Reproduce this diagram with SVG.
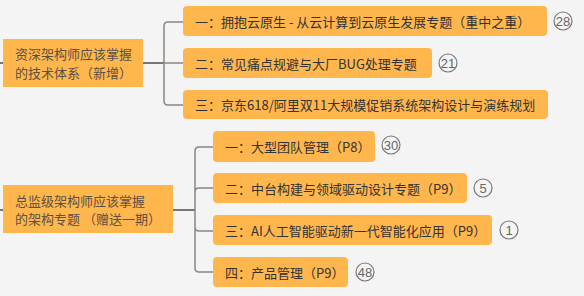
<svg xmlns="http://www.w3.org/2000/svg" width="584" height="296" viewBox="0 0 584 296">
<style>
.bg{fill:#f4f4f4}
.root{fill:#ffb74d}
.child{fill:#ffb74d}
.rt{font-family:"Noto Sans CJK SC","Noto Sans",sans-serif;font-size:13px;fill:#5a5046}
.ct{font-family:"Noto Sans CJK SC","Noto Sans",sans-serif;font-size:13px;fill:#333}
.badge{fill:none;stroke:#777;stroke-width:1.2}
.bt{font-family:"Liberation Sans","Noto Sans",sans-serif;font-size:13px;fill:#666;text-anchor:middle}
.conn{fill:none;stroke:#8c8580;stroke-width:1.5}
.trunk{fill:none;stroke:#7d7670;stroke-width:2}
</style>
<rect class="bg" x="0" y="0" width="584" height="296"/>
<g id="connectors">
<path class="trunk" d="M0 63H3M143 63H164"/>
<path class="conn" d="M183 22H168Q164 22 164 26V101Q164 105 168 105H183M164 63H183"/>
<path class="trunk" d="M0 210H3M173 210H195"/>
<path class="conn" d="M213 147H199Q195 147 195 151V268Q195 272 199 272H213M213 188H199Q195 188 195 192M195 227Q195 231 199 231H213"/>
</g>
<g id="root1">
<rect class="root" x="3" y="39" width="140" height="48"/>
<text class="rt" x="15" y="53" dominant-baseline="central">资深架构师应该掌握</text>
<text class="rt" x="15" y="72" dominant-baseline="central">的技术体系（新增）</text>
</g>
<g id="c1">
<rect class="child" x="183" y="6" width="364" height="30" rx="4"/>
<text class="ct" x="195" y="21" dominant-baseline="central">一：拥抱云原生 - 从云计算到云原生发展专题（重中之重）</text>
<circle class="badge" cx="563" cy="21" r="9"/>
<text class="bt" x="563" y="25.5">28</text>
</g>
<g id="c2">
<rect class="child" x="183" y="48" width="249" height="30" rx="4"/>
<text class="ct" x="195" y="63" dominant-baseline="central">二：常见痛点规避与大厂BUG处理专题</text>
<circle class="badge" cx="448" cy="63" r="9"/>
<text class="bt" x="448" y="67.5">21</text>
</g>
<g id="c3">
<rect class="child" x="183" y="90" width="365" height="29" rx="4"/>
<text class="ct" x="195" y="104.5" dominant-baseline="central">三：京东618/阿里双11大规模促销系统架构设计与演练规划</text>
</g>
<g id="root2">
<rect class="root" x="3" y="185" width="170" height="48"/>
<text class="rt" x="15" y="200" dominant-baseline="central">总监级架构师应该掌握</text>
<text class="rt" x="15" y="218" dominant-baseline="central">的架构专题 （赠送一期）</text>
</g>
<g id="d1">
<rect class="child" x="213" y="131" width="162" height="31" rx="4"/>
<text class="ct" x="225" y="146" dominant-baseline="central">一：大型团队管理（P8）</text>
<circle class="badge" cx="391" cy="145" r="9"/>
<text class="bt" x="391" y="149.5">30</text>
</g>
<g id="d2">
<rect class="child" x="213" y="173" width="254" height="30" rx="4"/>
<text class="ct" x="225" y="188" dominant-baseline="central">二：中台构建与领域驱动设计专题（P9）</text>
<circle class="badge" cx="483" cy="188" r="9"/>
<text class="bt" x="483" y="192.5">5</text>
</g>
<g id="d3">
<rect class="child" x="213" y="215" width="279" height="30" rx="4"/>
<text class="ct" x="225" y="230" dominant-baseline="central">三：AI人工智能驱动新一代智能化应用（P9）</text>
<circle class="badge" cx="509" cy="230" r="9"/>
<text class="bt" x="509" y="234.5">1</text>
</g>
<g id="d4">
<rect class="child" x="213" y="257" width="135" height="30" rx="4"/>
<text class="ct" x="225" y="272" dominant-baseline="central">四：产品管理（P9）</text>
<circle class="badge" cx="365" cy="272" r="9"/>
<text class="bt" x="365" y="276.5">48</text>
</g>
</svg>
